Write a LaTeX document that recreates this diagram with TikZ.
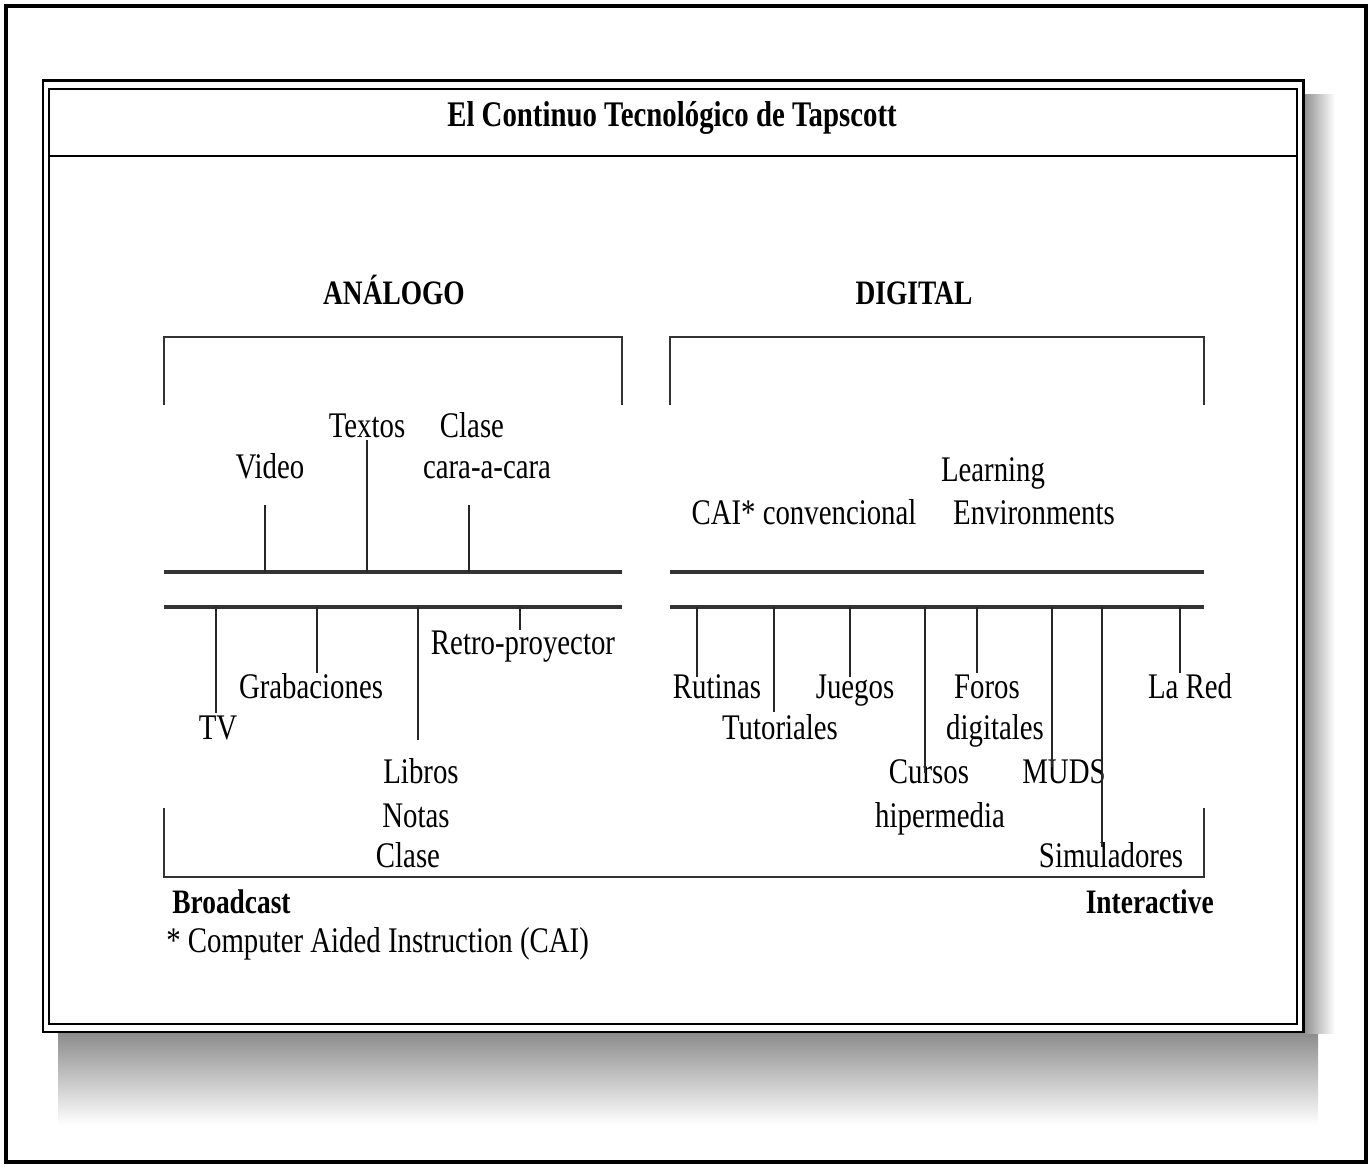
\documentclass[tikz,border=0pt]{standalone}
\usepackage{fontspec}
\setmainfont{Liberation Serif}[FakeStretch=0.8]
\usetikzlibrary{positioning}

\begin{document}
\begin{tikzpicture}[x=0.02cm,y=-0.02cm,
    lbl/.style={anchor=base,inner sep=0pt,font=\fontsize{20.5}{24}\selectfont},
    hdr/.style={anchor=base,inner sep=0pt,font=\fontsize{19.5}{24}\selectfont\bfseries},
    axis/.style={line width=2.2pt,black!80},
    brk/.style={line width=1.6pt,black!80},
    tick/.style={line width=1.1pt,black!85}]
  \useasboundingbox (0,0) rectangle (1372,1168);
  \fill[white] (0,0) rectangle (1372,1168);

  % frame with its shadow
  \shade[top color=black!45,bottom color=white] (58,1033) rectangle (1318,1125);
  \shade[left color=black!45,right color=white] (1303,95) rectangle (1335,1033);
  \draw[line width=2.8pt] (6,6) rectangle (1366,1162);
  \draw[line width=1.7pt,fill=white] (43,81) rectangle (1303,1032);
  \draw[line width=1.1pt] (49,89) rectangle (1297,1024);
  \draw[line width=1.1pt] (49,156) -- (1297,156);

  \node[hdr,font=\fontsize{20.5}{24}\selectfont\bfseries] (title) at (672,127) {El Continuo Tecnológico de Tapscott};
  \node[hdr] (analogo) at (394,305) {ANÁLOGO};
  \node[hdr] (digital) at (914,305) {DIGITAL};

  % brackets and axes
  \draw[brk] (164,405) -- (164,337) -- (622,337) -- (622,405);
  \draw[brk] (670,405) -- (670,337) -- (1204,337) -- (1204,405);
  \draw[axis] (164,572) coordinate (a_up) -- (622,572);
  \draw[axis] (164,607) coordinate (a_lo) -- (622,607);
  \draw[axis] (670,572) coordinate (d_up) -- (1204,572);
  \draw[axis] (670,607) coordinate (d_lo) -- (1204,607);
  \draw[brk] (164,808) -- (164,877) -- (1204,877) -- (1204,808);

  % analogo, above
  \node[lbl] (video)  at (270,479) {Video};
  \node[lbl] (textos) at (367,438) {Textos};
  \node[lbl] (clase_a) at (472,438) {Clase};
  \node[lbl] (cara)   at (487,479) {cara-a-cara};
  % analogo, below
  \node[lbl] (retro)  at (523,654) {Retro-proyector};
  \node[lbl] (grab)   at (311,698) {Grabaciones};
  \node[lbl] (tv)     at (218,739) {TV};
  \node[lbl] (libros) at (421,783) {Libros};
  \node[lbl] (notas)  at (416,827) {Notas};
  \node[lbl] (clase_b) at (408,867) {Clase};

  % digital, above
  \node[lbl] (cai)    at (804,525) {CAI* convencional};
  \node[lbl] (learn)  at (993,482) {Learning};
  \node[lbl] (env)    at (1034,525) {Environments};
  % digital, below
  \node[lbl] (rutinas) at (717,698) {Rutinas};
  \node[lbl] (tutor)  at (780,739) {Tutoriales};
  \node[lbl] (juegos) at (855,698) {Juegos};
  \node[lbl] (foros)  at (987,698) {Foros};
  \node[lbl] (digit)  at (995,739) {digitales};
  \node[lbl] (cursos) at (929,783) {Cursos};
  \node[lbl] (hiper)  at (940,827) {hipermedia};
  \node[lbl] (muds)   at (1064,783) {MUDS};
  \node[lbl] (simul)  at (1111,867) {Simuladores};
  \node[lbl] (lared)  at (1190,698) {La Red};

  \node[hdr,anchor=base west] (broad) at (172,913) {Broadcast};
  \node[hdr,anchor=base east] (inter) at (1214,913) {Interactive};
  \node[lbl,anchor=base west] (nota) at (166,952) {* Computer Aided Instruction (CAI)};

  % ticks
  \coordinate (t_video) at (265,505);
  \coordinate (t_textos) at (367,440);
  \coordinate (t_clase) at (469,505);
  \draw[tick] (t_video) -- (t_video |- a_up);
  \draw[tick] (t_textos) -- (t_textos |- a_up);
  \draw[tick] (t_clase) -- (t_clase |- a_up);

  \coordinate (t_tv) at (216,713);
  \coordinate (t_grab) at (317,673);
  \coordinate (t_libros) at (418,740);
  \coordinate (t_retro) at (520,630);
  \draw[tick] (t_tv |- a_lo) -- (t_tv);
  \draw[tick] (t_grab |- a_lo) -- (t_grab);
  \draw[tick] (t_libros |- a_lo) -- (t_libros);
  \draw[tick] (t_retro |- a_lo) -- (t_retro);

  \coordinate (t_rutinas) at (697,677);
  \coordinate (t_tutor) at (774,712);
  \coordinate (t_juegos) at (850,677);
  \coordinate (t_cursos) at (925,773);
  \coordinate (t_foros) at (977,673);
  \coordinate (t_muds) at (1052,767);
  \coordinate (t_simul) at (1102,847);
  \coordinate (t_lared) at (1180,673);
  \draw[tick] (t_rutinas |- d_lo) -- (t_rutinas);
  \draw[tick] (t_tutor |- d_lo) -- (t_tutor);
  \draw[tick] (t_juegos |- d_lo) -- (t_juegos);
  \draw[tick] (t_cursos |- d_lo) -- (t_cursos);
  \draw[tick] (t_foros |- d_lo) -- (t_foros);
  \draw[tick] (t_muds |- d_lo) -- (t_muds);
  \draw[tick] (t_simul |- d_lo) -- (t_simul);
  \draw[tick] (t_lared |- d_lo) -- (t_lared);
\end{tikzpicture}
\end{document}
